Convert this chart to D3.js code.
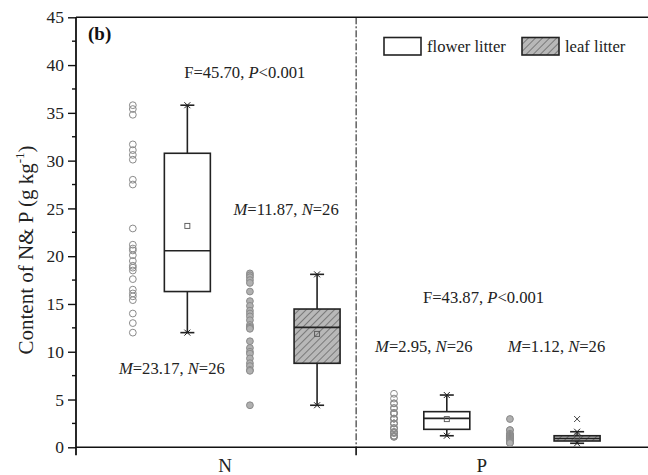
<!DOCTYPE html>
<html><head><meta charset="utf-8">
<script src="https://cdn.jsdelivr.net/npm/d3@7"></script>
<style>body{margin:0;background:#fff}svg{display:block}text{font-family:"Liberation Serif","Times New Roman",serif}</style>
</head><body><svg id="c" width="648" height="475"></svg>
<script>
// ---- data ----
const categories = ["N", "P"];
const yTicks = [0,5,10,15,20,25,30,35,40,45];
const flowerN = [35.8,35.4,34.8,31.7,31.1,30.6,30.1,28.0,27.5,22.9,21.2,20.8,20.6,20.1,19.5,19.0,18.8,18.5,17.6,16.5,16.1,15.8,15.4,14.0,13.0,12.0];
const leafN = [18.2,18.0,17.8,17.5,17.2,16.3,15.3,14.8,14.3,14.0,13.7,13.3,12.8,12.6,12.5,12.4,11.1,10.4,10.0,9.8,9.3,8.8,8.5,8.1,8.0,4.4];
const flowerP = [5.6,5.1,4.6,4.6,4.1,4.1,3.6,3.6,3.5,3.0,3.0,3.0,2.5,2.5,2.5,2.0,2.0,2.0,1.6,1.6,1.5,1.5,1.2,1.2,1.1,1.1];
const leafP = [2.96,1.8,1.8,1.4,1.4,1.3,1.2,1.2,1.1,1.1,1.0,1.0,0.95,0.95,0.9,0.9,0.9,0.85,0.8,0.8,0.7,0.7,0.6,0.5,0.5,0.45];
// box stats: [min, q1, median, q3, max, mean]
const boxFlowerN = [12.0,16.3,20.57,30.77,35.8,23.17];
const boxLeafN = [4.4,8.79,12.55,14.47,18.1,11.87];
const boxFlowerP = [1.21,1.88,3.03,3.73,5.47,2.95];
const boxLeafP = [0.42,0.66,0.92,1.21,1.63,1.12];
const outliersLeafP = [2.96];
// x positions (axis units)
const ptPos = [0.99, 3.03, 5.54, 7.56];
const boxPos = [1.94, 4.20, 6.46, 8.73];
const catPos = [2.6, 7.07];
const sepPos = 4.88;
const labels = [
  {x:2.94, y:38.6, parts:[["F=45.70, ",""],["P","i"],["<0.001",""]]},
  {x:3.66, y:24.3, parts:[["M","i"],["=11.87, ",""],["N","i"],["=26",""]]},
  {x:1.67, y:7.7, parts:[["M","i"],["=23.17, ",""],["N","i"],["=26",""]]},
  {x:7.10, y:15.1, parts:[["F=43.87, ",""],["P","i"],["<0.001",""]]},
  {x:6.06, y:9.95, parts:[["M","i"],["=2.95, ",""],["N","i"],["=26",""]]},
  {x:8.37, y:9.95, parts:[["M","i"],["=1.12, ",""],["N","i"],["=26",""]]}
];

const svg = d3.select("#c");
const x = d3.scaleLinear().domain([0,10]).range([76,650]);
const y = d3.scaleLinear().domain([0,45]).range([447.3,17.3]);

// hatch pattern
const defs = svg.append("defs");
const pat = defs.append("pattern").attr("id","hatch").attr("patternUnits","userSpaceOnUse")
  .attr("width",5).attr("height",5).attr("patternTransform","rotate(45)");
pat.append("rect").attr("width",5).attr("height",5).attr("fill","#b8b8b8");
pat.append("line").attr("x1",0).attr("y1",0).attr("x2",0).attr("y2",5).attr("stroke","#444").attr("stroke-width",1.1);

// y axis
const yAxis = d3.axisLeft(y).tickValues(yTicks).tickSize(8).tickPadding(4);
const gy = svg.append("g").attr("transform","translate(76,0)").call(yAxis);
gy.select(".domain").remove();
gy.selectAll(".tick line").attr("stroke","#111").attr("stroke-width",1.4);
gy.selectAll(".tick text").attr("font-size",17.5).attr("fill","#222").style("font-family","Liberation Serif");
const minor = d3.range(2.5,45,5);
svg.append("g").selectAll("line").data(minor).join("line")
  .attr("x1",72).attr("x2",76).attr("y1",d=>y(d)).attr("y2",d=>y(d)).attr("stroke","#111").attr("stroke-width",1.4);

// frame
svg.append("line").attr("x1",76).attr("x2",76).attr("y1",y(45)).attr("y2",y(0)+8).attr("stroke","#111").attr("stroke-width",1.8);
svg.append("line").attr("x1",76).attr("x2",650).attr("y1",y(0)).attr("y2",y(0)).attr("stroke","#111").attr("stroke-width",1.6);
svg.append("line").attr("x1",76).attr("x2",650).attr("y1",y(45)).attr("y2",y(45)).attr("stroke","#111").attr("stroke-width",1.6);
// separator
svg.append("line").attr("x1",x(sepPos)).attr("x2",x(sepPos)).attr("y1",y(45)).attr("y2",y(0)).attr("stroke","#111").attr("stroke-width",1).attr("stroke-dasharray","7,2,2,2");
svg.append("line").attr("x1",x(sepPos)).attr("x2",x(sepPos)).attr("y1",y(0)).attr("y2",y(0)+8).attr("stroke","#111").attr("stroke-width",1.6);

// category labels
svg.append("g").selectAll("text").data(categories).join("text")
  .attr("x",(d,i)=>x(catPos[i])).attr("y",472).attr("text-anchor","middle").attr("font-size",19).attr("fill","#222").text(d=>d);

// y label
const yl = svg.append("text").attr("transform","translate(33,250) rotate(-90)").attr("text-anchor","middle").attr("font-size",21).attr("fill","#222");
yl.append("tspan").text("Content of N& P (g kg");
yl.append("tspan").attr("font-size",13).attr("dy",-9).text("-1");
yl.append("tspan").attr("dy",9).text(")");

// points
const pointSets = [[flowerN,false],[leafN,true],[flowerP,false],[leafP,true]];
pointSets.forEach(([vals,filled],i)=>{
  svg.append("g").selectAll("circle").data(vals).join("circle")
    .attr("cx",x(ptPos[i])).attr("cy",d=>y(d)).attr("r",3.4)
    .attr("fill",filled?"#b0b0b0":"none").attr("stroke","#8a8a8a").attr("stroke-width",1);
});

// boxes
const boxes = [[boxFlowerN,false],[boxLeafN,true],[boxFlowerP,false],[boxLeafP,true]];
const bw = 46, cw = 14;
boxes.forEach(([b,hatched],i)=>{
  const cx = x(boxPos[i]);
  const g = svg.append("g").attr("stroke","#222").attr("stroke-width",1.6);
  g.append("line").attr("x1",cx).attr("x2",cx).attr("y1",y(b[4])).attr("y2",y(b[3]));
  g.append("line").attr("x1",cx).attr("x2",cx).attr("y1",y(b[1])).attr("y2",y(b[0]));
  [b[0],b[4]].forEach(v=>{
    g.append("line").attr("x1",cx-cw/2).attr("x2",cx+cw/2).attr("y1",y(v)).attr("y2",y(v));
    g.append("path").attr("d",`M${cx-3},${y(v)-3}L${cx+3},${y(v)+3}M${cx-3},${y(v)+3}L${cx+3},${y(v)-3}`).attr("stroke-width",1);
  });
  g.append("rect").attr("x",cx-bw/2).attr("width",bw).attr("y",y(b[3])).attr("height",y(b[1])-y(b[3]))
    .attr("fill",hatched?"url(#hatch)":"#fff");
  g.append("line").attr("x1",cx-bw/2).attr("x2",cx+bw/2).attr("y1",y(b[2])).attr("y2",y(b[2]));
  g.append("rect").attr("x",cx-2.5).attr("y",y(b[5])-2.5).attr("width",5).attr("height",5).attr("fill","none").attr("stroke","#555").attr("stroke-width",0.9);
});
// outliers
outliersLeafP.forEach(v=>{
  const cx = x(boxPos[3]), cy = y(v);
  svg.append("path").attr("d",`M${cx-3},${cy-3}L${cx+3},${cy+3}M${cx-3},${cy+3}L${cx+3},${cy-3}`).attr("stroke","#444").attr("stroke-width",1);
});

// annotations
labels.forEach(l=>{
  const t = svg.append("text").attr("x",x(l.x)).attr("y",y(l.y)).attr("text-anchor","middle").attr("font-size",16.6).attr("fill","#222");
  l.parts.forEach(([s,st])=>{ const ts=t.append("tspan").text(s); if(st==="i") ts.attr("font-style","italic"); });
});
svg.append("text").attr("x",88).attr("y",40).attr("font-size",19).attr("font-weight","bold").attr("fill","#111").text("(b)");

// legend
const leg = [["flower litter",false],["leaf litter",true]];
const legX = [384,522];
leg.forEach(([name,h],i)=>{
  svg.append("rect").attr("x",legX[i]).attr("y",37.5).attr("width",37).attr("height",17.5)
    .attr("fill",h?"url(#hatch)":"#fff").attr("stroke","#222").attr("stroke-width",1.6);
  svg.append("text").attr("x",legX[i]+43).attr("y",52).attr("font-size",16.6).attr("fill","#222").text(name);
});
</script></body></html>
